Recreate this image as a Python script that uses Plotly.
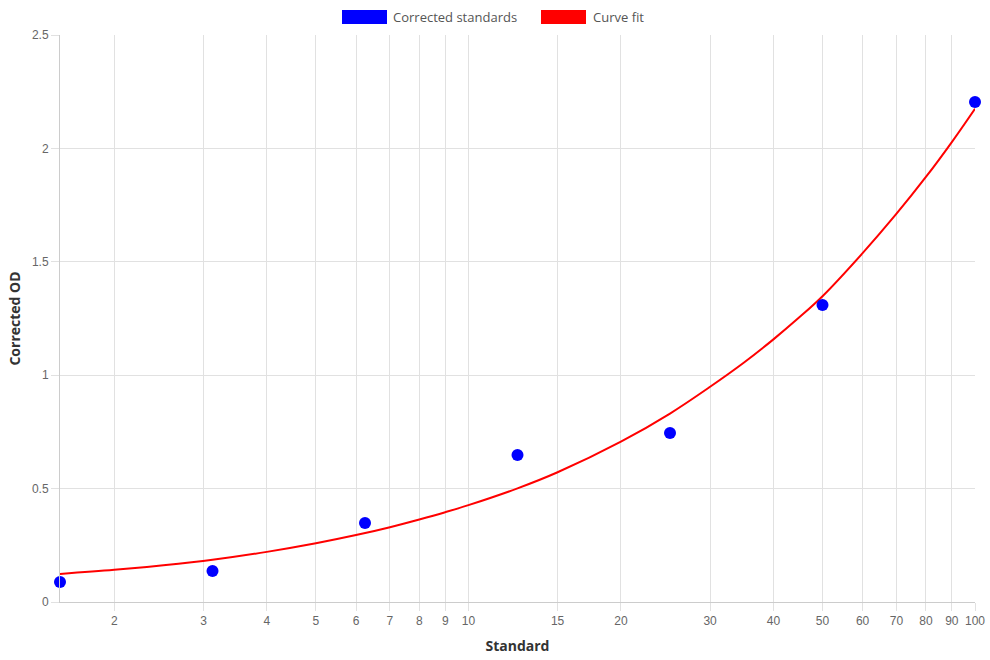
import plotly.graph_objects as go

# Standards (measured)
std_x = [1.5625, 3.125, 6.25, 12.5, 25, 50, 100]
std_y = [0.088, 0.137, 0.348, 0.648, 0.745, 1.31, 2.205]

# Curve fit
fit_x = [1.5625, 2, 2.5, 3.125, 4, 5, 6, 7, 8, 9, 10, 12.5, 15, 20, 25, 30, 35, 40, 45,
         50, 60, 70, 80, 90, 100]
fit_y = [0.124, 0.142, 0.162, 0.186, 0.221, 0.259, 0.295, 0.330, 0.364, 0.396, 0.427,
         0.501, 0.572, 0.707, 0.831, 0.949, 1.056, 1.158, 1.255, 1.348, 1.538, 1.712,
         1.874, 2.028, 2.175]

x_ticks = [2, 3, 4, 5, 6, 7, 8, 9, 10, 15, 20, 30, 40, 50, 60, 70, 80, 90, 100]
y_ticks = [0, 0.5, 1, 1.5, 2, 2.5]

grid = "#e1e1e1"
tick_font = dict(family="Liberation Sans, Arial, sans-serif", size=12, color="#666666")
title_font = dict(family="Open Sans, sans-serif", size=14, color="#333333")

fig = go.Figure()
fig.add_trace(go.Scatter(x=fit_x, y=fit_y, mode="lines", name="Curve fit",
                         line=dict(color="#ff0000", width=2, shape="spline", smoothing=1.0),
                         showlegend=False))
fig.add_trace(go.Scatter(x=std_x, y=std_y, mode="markers", name="Corrected standards",
                         marker=dict(color="#0000ff", size=12, line=dict(width=0)),
                         showlegend=False, cliponaxis=False))

fig.update_xaxes(type="log", range=[0.19382, 2.0], tickvals=x_ticks,
                 ticktext=[str(v) for v in x_ticks], automargin=False,
                 showgrid=True, gridcolor=grid, gridwidth=1,
                 ticks="outside", ticklen=8, tickcolor=grid,
                 showline=True, linecolor="#cccccc", linewidth=1,
                 zeroline=False, tickfont=tick_font,
                 title=dict(text="<b>Standard</b>", font=title_font, standoff=13))
fig.update_yaxes(range=[0, 2.5], tickvals=y_ticks, ticktext=["0", "0.5", "1", "1.5", "2", "2.5"],
                 showgrid=True, gridcolor=grid, gridwidth=1, automargin=False,
                 ticks="outside", ticklen=8, tickcolor=grid,
                 showline=True, linecolor="#cccccc", linewidth=1,
                 zeroline=False, tickfont=tick_font,
                 title=dict(text="<b>Corrected OD</b>", font=title_font, standoff=8))

# Custom legend (wide colour boxes)
legend_items = [("Corrected standards", "#0000ff", 342, 393), ("Curve fit", "#ff0000", 541, 593)]
W, H = 990, 660
for label, col, bx, tx in legend_items:
    fig.add_shape(type="rect", xref="paper", yref="paper",
                  x0=(bx - 60) / 915, x1=(bx + 45 - 60) / 915,
                  y0=(602 - 24) / 567, y1=(602 - 10) / 567,
                  fillcolor=col, line=dict(width=0))
    fig.add_annotation(xref="paper", yref="paper", x=(tx - 60) / 915, y=(602 - 17) / 567,
                       text=label, showarrow=False, xanchor="left", yanchor="middle",
                       xshift=-2, font=dict(family="Open Sans, sans-serif", size=13, color="#555555"))

fig.update_layout(width=W, height=H, plot_bgcolor="white", paper_bgcolor="white",
                  margin=dict(l=60, r=15, t=35, b=58), showlegend=False)

fig.write_html("out.html")
